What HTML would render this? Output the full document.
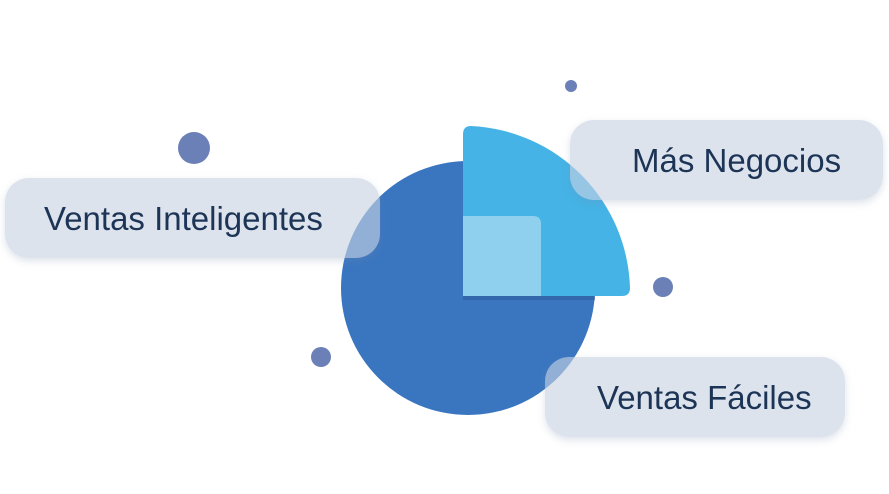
<!DOCTYPE html>
<html><head><style>
body{margin:0;width:889px;height:494px;background:#fff;overflow:hidden;position:relative;font-family:"Liberation Sans",sans-serif}
.b{position:absolute;border-radius:24px;background:rgba(200,210,226,0.62);box-shadow:0 3px 8px rgba(120,140,170,0.25);color:#1c3455;font-size:33px;box-sizing:border-box}
.b span{position:absolute;top:22px;white-space:nowrap}
</style></head><body>
<svg width="889" height="494" style="position:absolute;left:0;top:0">
<circle cx="194" cy="148" r="16" fill="#6a80b6"/>
<circle cx="571" cy="86" r="6" fill="#6a80b6"/>
<circle cx="663" cy="287" r="10" fill="#6a80b6"/>
<circle cx="321" cy="357" r="10" fill="#6a80b6"/>
<circle cx="468" cy="288" r="127" fill="#3a76c0"/>
<rect x="463" y="292" width="132" height="8" fill="#2f5e9e" opacity="0.6"/>
<path d="M463 296 L463 134 Q463 126 471 126 A167 167 0 0 1 630 288 Q630 296 622 296 Z" fill="#45b3e6"/>
<path d="M463 296 L463 216 L533 216 Q541 216 541 224 L541 296 Z" fill="#8fd0ee"/>
</svg>
<div class="b" style="left:5px;top:178px;width:375px;height:80px"><span style="left:39px">Ventas Inteligentes</span></div>
<div class="b" style="left:570px;top:120px;width:313px;height:80px"><span style="left:62px">Más Negocios</span></div>
<div class="b" style="left:545px;top:357px;width:300px;height:80px"><span style="left:52px">Ventas Fáciles</span></div>
</body></html>
